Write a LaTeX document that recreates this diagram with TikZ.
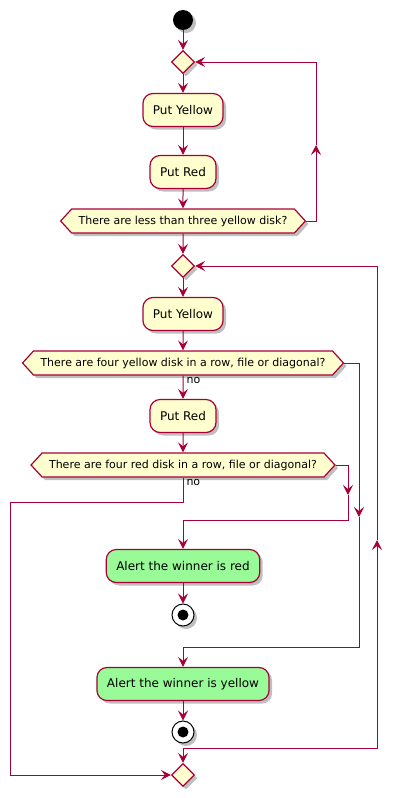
\documentclass[tikz,border=0pt]{standalone}
\usepackage{fontspec}
\setmainfont{DejaVu Sans}
\usetikzlibrary{arrows.meta,shapes.geometric,shapes.symbols,shadows}
\definecolor{umlred}{HTML}{A80036}
\definecolor{umlfill}{HTML}{FEFECE}
\definecolor{umlgreen}{HTML}{98FB98}
\tikzset{
  shade/.style={drop shadow={shadow xshift=3pt,shadow yshift=-3pt,opacity=.25,fill=black}},
  act/.style={draw=umlred,fill=umlfill,line width=1.2pt,rounded corners=10pt,
    minimum height=33pt,inner xsep=10pt,font=\fontsize{12}{14}\selectfont,shade},
  alert/.style={act,fill=umlgreen},
  test/.style={signal,signal to=east and west,signal pointer angle=95,draw=umlred,
    fill=umlfill,line width=1.2pt,minimum height=24pt,inner xsep=7pt,inner ysep=0pt,
    font=\fontsize{11}{13}\selectfont,shade},
  choice/.style={diamond,aspect=1,draw=umlred,fill=umlfill,line width=1.2pt,
    minimum size=23pt,inner sep=0pt,shade},
  stopring/.style={circle,draw=black,line width=1pt,fill=white,minimum size=22pt,
    inner sep=0pt,shade,path picture={\fill[black] (path picture bounding box.center) circle (5.5pt);}},
  flow/.style={umlred,line width=1pt,-{Stealth[length=10pt,width=10pt,inset=4pt]}},
  nolabel/.style={anchor=north west,inner sep=1pt,xshift=2pt,text=black,
    font=\fontsize{11}{13}\selectfont},
}
\begin{document}
\begin{tikzpicture}[x=1pt,y=-1pt]
\useasboundingbox (0,0) rectangle (401,798);
%
% Premiere boucle
\node[circle,fill=black,minimum size=20pt,inner sep=0pt,shade] (start) at (183,20) {};
\node[choice] (d1) at (183,62) {};
\node[act] (py1) at (183,110) {Put Yellow};
\node[act] (pr1) at (183,172) {Put Red};
\node[test] (h1) at (183,221) {There are less than three yellow disk?};
\coordinate (up1) at (316,145);
%
% Seconde boucle
\node[choice] (d2) at (183,266) {};
\node[act] (py2) at (183,314) {Put Yellow};
\node[test] (h2) at (183,363) {There are four yellow disk in a row, file or diagonal?};
\node[act] (pr2) at (183,416) {Put Red};
\node[test] (h3) at (183,465) {There are four red disk in a row, file or diagonal?};
\node[alert] (ar) at (183,566) {Alert the winner is red};
\node[stopring] (s1) at (183,615) {};
\node[alert] (ay) at (183,684) {Alert the winner is yellow};
\node[stopring] (s2) at (183,732) {};
\node[choice] (d3) at (183,775) {};
%
% Points de passage
\coordinate (dn2) at (359,517);
\coordinate (dn3) at (348,495);
\coordinate (jr) at (183,520);
\coordinate (jy) at (183,647);
\coordinate (nob) at (183,502);
\coordinate (lft) at (10,502);
\coordinate (jb) at (183,748);
\coordinate (up2) at (377,540);
%
% Fleches
\draw[flow] (start) -- (d1);
\draw[flow] (d1) -- (py1);
\draw[flow] (py1) -- (pr1);
\draw[flow] (pr1) -- (h1);
\draw[flow] (h1.east) -| (up1);
\draw[flow] (up1) |- (d1.east);
\draw[flow] (h1) -- (d2);
\draw[flow] (d2) -- (py2);
\draw[flow] (py2) -- (h2);
\draw[flow] (h2) -- (pr2) node[nolabel,at start] (no2) {no};
\draw[flow] (pr2) -- (h3);
\draw[flow] (h2.east) -| (dn2);
\draw[flow] (dn2) |- (jy) -- (ay);
\draw[flow] (h3.east) -| (dn3);
\draw[flow] (dn3) |- (jr) -- (ar);
\draw[flow] (h3.south) -- (nob) node[nolabel,at start] (no3) {no} -- (lft) |- (d3.west);
\draw[flow] (ar) -- (s1);
\draw[flow] (ay) -- (s2);
\draw[flow] (jb) -- (d3);
\draw[flow] (jb) -| (up2);
\draw[flow] (up2) |- (d2.east);
%
\end{tikzpicture}
\end{document}
